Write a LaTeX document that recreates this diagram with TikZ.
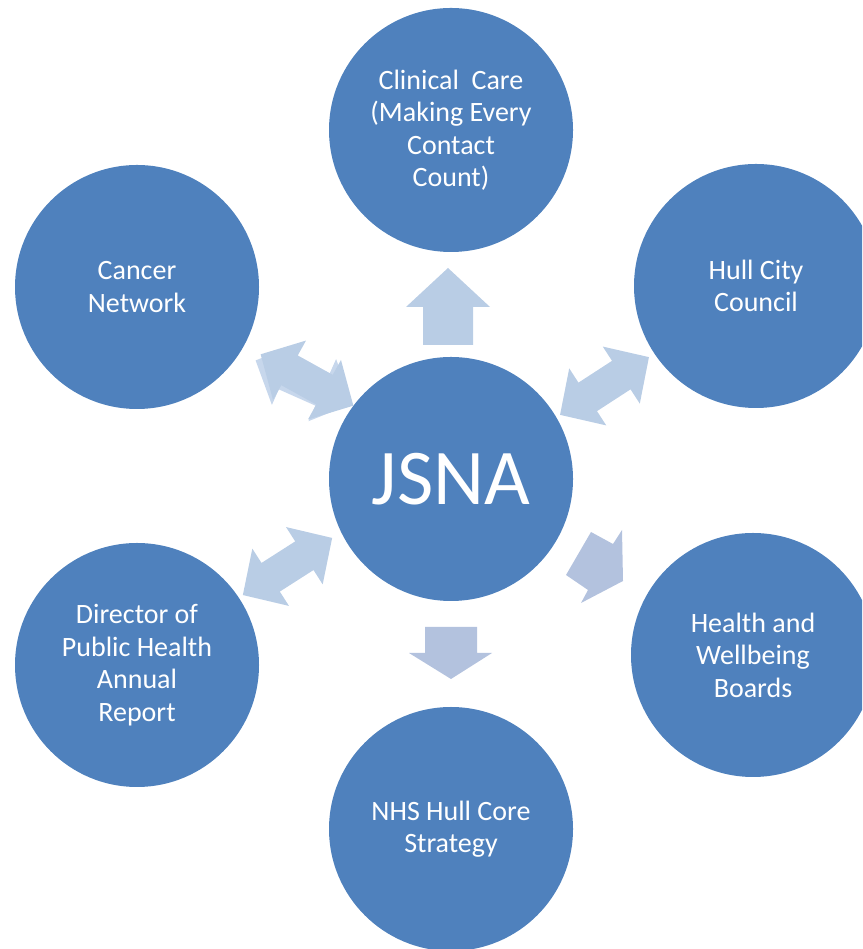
\documentclass[tikz,border=0pt]{standalone}
\usepackage{fontspec}
\setmainfont{Carlito}
\definecolor{discblue}{HTML}{4F81BD}
\definecolor{linkblue}{HTML}{B9CDE5}
\definecolor{linkshade}{HTML}{C7D7EC}
\definecolor{flowblue}{HTML}{B3C2DE}
% double block arrow centred on a coordinate, rotated by an angle
\newcommand\dblblock[3]{%
  \fill[#1, shift={(#2)}, rotate=#3]
    (-53,0) -- (-20,34) -- (-20,17) -- (20,17) -- (20,34) -- (53,0)
    -- (20,-34) -- (20,-17) -- (-20,-17) -- (-20,-34) -- cycle;}
\begin{document}
\begin{tikzpicture}[x=1pt,y=1pt,
  disc/.style={circle, fill=discblue, minimum size=244pt, inner sep=0pt,
    text=white, align=center,
    font=\fontsize{28}{32.5}\selectfont},
  hub/.style={disc, font=\fontsize{79}{90}\selectfont}]
\useasboundingbox (0,0) rectangle (862,949);
\clip (0,0) rectangle (862,949);

% discs
\node[hub]  (jsna)     at (451,470) {JSNA};
\node[disc] (clinical) at (451,819) {Clinical~\ Care\\(Making Every\\Contact\\Count)};
\node[disc] (cancer)   at (137,662) {Cancer\\Network};
\node[disc] (hull)     at (756,663) {Hull City\\Council};
\node[disc] (director) at (137,284) {Director of\\Public Health\\Annual\\Report};
\node[disc] (health)   at (753,294) {Health and\\Wellbeing\\Boards};
\node[disc] (nhs)      at (451,120) {NHS Hull Core\\Strategy};

% arrow anchors
\coordinate (cancerlink)   at (307,569);
\coordinate (cancershade)  at (304,567);
\coordinate (hulllink)     at (604.5,563);
\coordinate (directorlink) at (287.5,382.5);

% double links
\dblblock{linkshade}{cancershade}{-24}
\dblblock{linkblue}{cancerlink}{-29}
\dblblock{linkblue}{hulllink}{33}
\dblblock{linkblue}{directorlink}{32.6}

% up arrow towards Clinical Care
\fill[linkblue] (448,681) -- (490,642) -- (473,642) -- (473,604)
  -- (423,604) -- (423,642) -- (406,642) -- cycle;
% down arrow towards NHS Hull Core Strategy
\fill[flowblue] (451,270) -- (492,296) -- (477,296) -- (477,322)
  -- (425,322) -- (425,296) -- (409,296) -- cycle;
% arrow towards Health and Wellbeing Boards
\fill[flowblue] (591,417) -- (613,405) -- (622,419) -- (623,368)
  -- (581,346) -- (588,359) -- (566,374) -- cycle;
\end{tikzpicture}
\end{document}
